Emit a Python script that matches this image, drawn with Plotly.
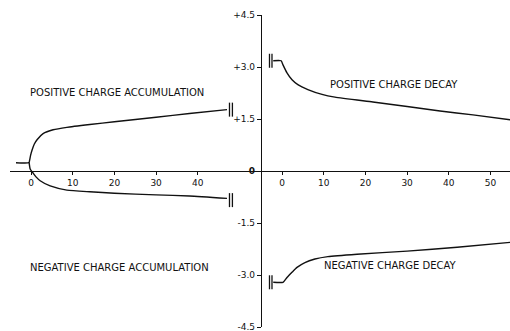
import plotly.graph_objects as go

# ---- data (time in minutes, charge in arbitrary units) ----
acc_pos_t = [-3.6, -0.5, -0.35, -0.1, 0.3, 0.8, 1.5, 2.9, 5.3, 8.6, 14.1, 20.0, 30.0, 38.0, 47.0]
acc_pos_v = [0.24, 0.24, 0.30, 0.45, 0.62, 0.78, 0.91, 1.08, 1.19, 1.26, 1.34, 1.42, 1.55, 1.66, 1.77]

acc_neg_t = [-0.45, -0.2, 0.5, 1.2, 2.2, 4.6, 8.6, 14.1, 20.0, 30.0, 38.0, 47.0]
acc_neg_v = [0.24, 0.06, -0.06, -0.17, -0.28, -0.43, -0.55, -0.60, -0.64, -0.69, -0.72, -0.79]

dec_pos_t = [-2.1, -0.2, 0.24, 1.2, 2.4, 3.8, 6.2, 9.6, 12.7, 21.8, 30.0, 37.9, 45.8, 54.7]
dec_pos_v = [3.18, 3.18, 3.06, 2.83, 2.63, 2.49, 2.35, 2.21, 2.13, 1.99, 1.86, 1.73, 1.62, 1.48]

dec_neg_t = [-2.1, 0.24, 1.2, 2.4, 3.6, 5.5, 7.9, 11.0, 18.0, 30.0, 42.0, 54.7]
dec_neg_v = [-3.21, -3.21, -3.07, -2.92, -2.78, -2.64, -2.54, -2.47, -2.40, -2.31, -2.20, -2.06]

left_ticks = [0, 10, 20, 30, 40]
right_ticks = [0, 10, 20, 30, 40, 50]
y_ticks = [4.5, 3.0, 1.5, 0, -1.5, -3.0, -4.5]
y_tick_text = ["+4.5", "+3.0", "+1.5", "<b>0</b>", "-1.5", "-3.0", "-4.5"]

labels = {
    "pos_acc": "POSITIVE CHARGE ACCUMULATION",
    "neg_acc": "NEGATIVE CHARGE ACCUMULATION",
    "pos_dec": "POSITIVE CHARGE DECAY",
    "neg_dec": "NEGATIVE CHARGE DECAY",
}

W, H = 510, 331
FONT = "DejaVu Sans"
INK = "#111111"

fig = go.Figure()

line_style = dict(color=INK, width=1.4, shape="spline", smoothing=0.5)

fig.add_trace(go.Scatter(x=acc_pos_t, y=acc_pos_v, mode="lines", line=line_style, xaxis="x", yaxis="y"))
fig.add_trace(go.Scatter(x=acc_neg_t, y=acc_neg_v, mode="lines", line=line_style, xaxis="x", yaxis="y"))
fig.add_trace(go.Scatter(x=dec_pos_t, y=dec_pos_v, mode="lines", line=line_style, xaxis="x2", yaxis="y"))
fig.add_trace(go.Scatter(x=dec_neg_t, y=dec_neg_v, mode="lines", line=line_style, xaxis="x2", yaxis="y"))

# break marks "||" at the ends of the records
brk = dict(symbol="line-ns", size=10, line=dict(color=INK, width=1.3), color=INK)
fig.add_trace(go.Scatter(
    x=[acc_pos_t[-1] + 0.6, acc_pos_t[-1] + 1.3, acc_neg_t[-1] + 0.6, acc_neg_t[-1] + 1.3],
    y=[acc_pos_v[-1], acc_pos_v[-1], acc_neg_v[-1] - 0.05, acc_neg_v[-1] - 0.05],
    mode="markers", marker=brk, xaxis="x", yaxis="y"))
fig.add_trace(go.Scatter(
    x=[dec_pos_t[0] - 0.3, dec_pos_t[0] - 0.9, dec_neg_t[0] - 0.3, dec_neg_t[0] - 0.9],
    y=[dec_pos_v[0], dec_pos_v[0], dec_neg_v[0], dec_neg_v[0]],
    mode="markers", marker=brk, xaxis="x2", yaxis="y"))

# geometry
y_dom = [(H - 327) / H, (H - 15) / H]
zero_pos = (y_dom[0] + y_dom[1]) / 2
x_split = 262 / W
left_start = 10 / W
px_per_min = 4.17
left_range = [(10 - 31) / px_per_min, (262 - 31) / px_per_min]
right_range = [(262 - 282) / px_per_min, (510 - 282) / px_per_min]

tickfont = dict(family=FONT, size=9, color=INK)

fig.update_layout(
    width=W, height=H,
    margin=dict(l=0, r=0, t=0, b=0, autoexpand=False),
    paper_bgcolor="white", plot_bgcolor="white",
    showlegend=False,
    xaxis=dict(domain=[left_start, x_split], range=left_range, anchor="free", position=zero_pos,
               showgrid=False, zeroline=False, showline=True, linecolor=INK, linewidth=1.2,
               ticks="outside", ticklen=3, tickwidth=1, tickcolor=INK, automargin=False,
               tickvals=left_ticks, tickfont=tickfont),
    xaxis2=dict(domain=[x_split, 1], range=right_range, anchor="free", position=zero_pos,
                showgrid=False, zeroline=False, showline=True, linecolor=INK, linewidth=1.2,
                ticks="outside", ticklen=3, tickwidth=1, tickcolor=INK, automargin=False,
                tickvals=right_ticks, tickfont=tickfont),
    yaxis=dict(domain=y_dom, range=[-4.5, 4.5], anchor="x2", side="left",
               showgrid=False, zeroline=False, showline=True, linecolor=INK, linewidth=1.4,
               ticks="outside", ticklen=4, tickwidth=1, tickcolor=INK, automargin=False,
               ticklabeloverflow="allow",
               tickvals=y_ticks, ticktext=y_tick_text, tickfont=tickfont),
)

afont = dict(family=FONT, size=10, color=INK)
fig.add_annotation(x=20.6, y=2.26, xref="x", yref="y", text=labels["pos_acc"], showarrow=False, font=afont)
fig.add_annotation(x=21.3, y=-2.77, xref="x", yref="y", text=labels["neg_acc"], showarrow=False, font=afont)
fig.add_annotation(x=26.9, y=2.49, xref="x2", yref="y", text=labels["pos_dec"], showarrow=False, font=afont)
fig.add_annotation(x=26.1, y=-2.74, xref="x2", yref="y", text=labels["neg_dec"], showarrow=False, font=afont)

fig.write_html("out.html", config={"displayModeBar": False},
               post_script="document.body.style.margin='0';document.body.style.overflow='hidden';")
